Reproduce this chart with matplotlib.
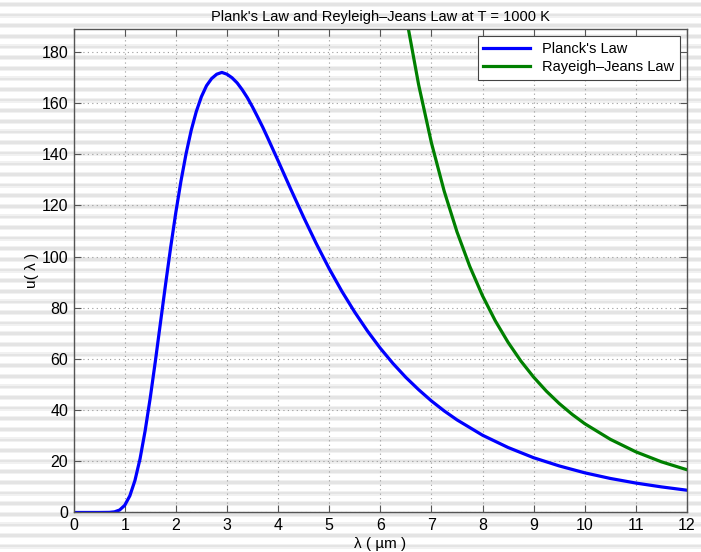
import numpy as np
import matplotlib
matplotlib.use("Agg")
from matplotlib import pyplot as plt

plt.rcParams['font.family'] = ['Liberation Sans', 'DejaVu Sans']

# wavelength (um) and energy density
lam_planck = [0.0, 0.5, 0.7, 0.8, 0.9, 1.0, 1.1, 1.2, 1.3, 1.4, 1.5, 1.6, 1.7, 1.8, 1.9,
              2.0, 2.1, 2.2, 2.3, 2.4, 2.5, 2.6, 2.7, 2.8, 2.9, 3.0, 3.1, 3.2, 3.3, 3.4, 3.5,
              3.6, 3.7, 3.8, 4.0, 4.25, 4.5, 4.75, 5.0, 5.25, 5.5, 5.75, 6.0, 6.25, 6.5, 6.75,
              7.0, 7.25, 7.5, 8.0, 8.5, 9.0, 9.5, 10.0, 10.5, 11.0, 11.5, 12.0]
u_planck = [0.0, 0.0, 0.04, 0.24, 0.96, 2.8, 6.5, 12.5, 21.0, 32.0, 44.9, 59.2, 74.3, 89.3, 103.8,
            117.3, 129.5, 140.2, 149.3, 156.7, 162.5, 166.8, 169.6, 171.3, 172.0, 171.3, 169.9, 167.9, 165.2, 162.1, 158.5,
            154.6, 150.6, 146.3, 137.5, 126.3, 115.4, 105.0, 95.3, 86.4, 78.3, 70.9, 64.2, 58.2, 52.8, 48.0,
            43.6, 39.7, 36.2, 30.2, 25.4, 21.4, 18.2, 15.5, 13.3, 11.5, 10.0, 8.7]

lam_rj = [6.5, 6.75, 7.0, 7.25, 7.5, 7.75, 8.0, 8.25, 8.5, 8.75, 9.0, 9.25, 9.5, 9.75,
          10.0, 10.5, 11.0, 11.5, 12.0]
u_rj = [194.4, 167.2, 144.5, 125.6, 109.7, 96.2, 84.7, 74.9, 66.5, 59.2, 52.9, 47.4, 42.6, 38.4,
        34.7, 28.6, 23.7, 19.8, 16.7]

fig = plt.figure(figsize=(7.01, 5.52), dpi=100)

# striped window background
bg = fig.add_axes([0, 0, 1, 1], zorder=-10)
bg.set_xlim(0, 1)
bg.set_ylim(552, 0)
bg.axis('off')
y = 4.5
while y < 552:
    bg.axhspan(y - 2.5, y + 2.5, color='#f1f1f1', lw=0)
    bg.axhspan(y - 1.3, y + 1.3, color='#e4e4e4', lw=0)
    y += 10.62

ax = fig.add_axes([0.105, 0.0716, 0.875, 0.876])
ax.set_facecolor('none')
ax.plot(lam_planck, u_planck, color='#0000ff', lw=2.3, label="Planck's Law")
ax.plot(lam_rj, u_rj, color='#008000', lw=2.3, label='Rayeigh\u2013Jeans Law')

ax.set_xlim(0, 12)
ax.set_ylim(0, 189)
ax.set_xticks(range(0, 13))
ax.set_yticks(range(0, 181, 20))
ax.tick_params(direction='in', length=5, width=0.8, color='#555555', labelsize=11.5,
               top=True, right=True, pad=4)
for s in ax.spines.values():
    s.set_color('#555555')
    s.set_linewidth(1.0)
ax.grid(True, linestyle=(0, (1, 3)), color='#999999', linewidth=0.8)

ax.set_title('Plank\'s Law and Reyleigh\u2013Jeans Law at T = 1000 K', fontsize=10.5, pad=6)
ax.set_xlabel('\u03bb ( \u00b5m )', fontsize=11, labelpad=3)
ax.set_ylabel('u( \u03bb )', fontsize=11, labelpad=2)

leg = ax.legend(loc='upper right', fontsize=10.5, handlelength=3.2, fancybox=False,
                framealpha=1, edgecolor='#444444', borderpad=0.4, labelspacing=0.3,
                borderaxespad=0.5)
leg.get_frame().set_linewidth(0.8)

fig.savefig('out.png', dpi=100)
